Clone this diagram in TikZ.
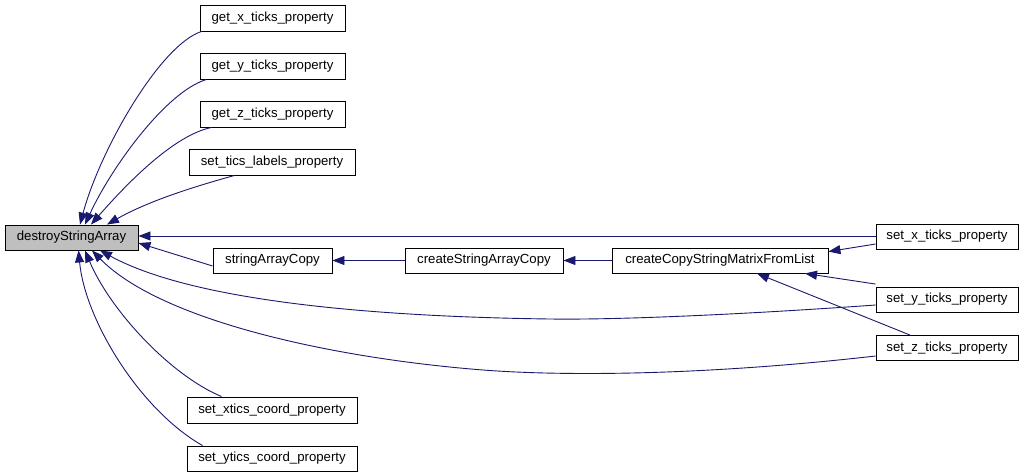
\documentclass[tikz,border=0pt]{standalone}
\usepackage{fontspec}
\setmainfont{Liberation Sans}
\usetikzlibrary{arrows.meta}
\definecolor{edgeblue}{HTML}{191970}
\definecolor{hilite}{HTML}{BFBFBF}
\begin{document}
\begin{tikzpicture}[x=1pt,y=-1pt,
  fn/.style={draw=black, line width=0.9pt, fill=white, inner sep=0pt,
    minimum height=25pt, font=\fontsize{13.2}{15}\selectfont, anchor=center},
  edge/.style={draw=edgeblue, line width=0.9pt,
    -{Triangle[length=12pt,width=9pt]}}]
\useasboundingbox[fill=white] (0,0) rectangle (1026,474);
% nodes
\node[fn, fill=hilite, minimum width=133pt] (dsa) at (71.5,237.5) {destroyStringArray};
\node[fn, minimum width=145pt, minimum height=26pt] (gx) at (272.5,18) {get\_x\_ticks\_property};
\node[fn, minimum width=145pt, minimum height=26pt] (gy) at (272.5,66) {get\_y\_ticks\_property};
\node[fn, minimum width=145pt, minimum height=26pt] (gz) at (272.5,114) {get\_z\_ticks\_property};
\node[fn, minimum width=166pt, minimum height=26pt] (stl) at (272,162) {set\_tics\_labels\_property};
\node[fn, minimum width=119pt] (sac) at (272.5,260.5) {stringArrayCopy};
\node[fn, minimum width=158pt] (csac) at (484,260.5) {createStringArrayCopy};
\node[fn, minimum width=216pt] (ccsm) at (720,260.5) {createCopyStringMatrixFromList};
\node[fn, minimum width=142pt] (sx) at (947,236.5) {set\_x\_ticks\_property};
\node[fn, minimum width=142pt] (sy) at (947,299.5) {set\_y\_ticks\_property};
\node[fn, minimum width=142pt] (sz) at (947,348) {set\_z\_ticks\_property};
\node[fn, minimum width=170pt, minimum height=26pt] (sxc) at (272,410) {set\_xtics\_coord\_property};
\node[fn, minimum width=170pt] (syc) at (272,458.5) {set\_ytics\_coord\_property};
% edges to destroyStringArray (top)
\draw[edge] ([xshift=2pt]gx.south west) .. controls (160,45) and (100,150) .. ([xshift=8.5pt]dsa.north);
\draw[edge] ([xshift=7pt]gy.south west) .. controls (165,92) and (110,170) .. ([xshift=13.5pt]dsa.north);
\draw[edge] ([xshift=12pt]gz.south west) .. controls (175,135) and (130,180) .. ([xshift=19.5pt]dsa.north);
\draw[edge] ([xshift=46pt]stl.south west) .. controls (200,185) and (150,200) .. ([xshift=35.5pt]dsa.north);
% horizontal edges
\draw[edge] ([yshift=0.5pt]sx.west) -- ([yshift=1.5pt]dsa.east);
\draw[edge] ([yshift=-5.5pt]sac.west) -- ([yshift=-5.5pt]dsa.east);
\draw[edge] (csac.west) -- (sac.east);
\draw[edge] (ccsm.west) -- (csac.east);
\draw[edge] ([yshift=-7.5pt]sx.west) -- ([yshift=-4pt]ccsm.north east);
\draw[edge] ([yshift=2.5pt]sy.north west) -- ([xshift=85pt]ccsm.south);
\draw[edge] ([xshift=-37pt]sz.north) -- ([xshift=37pt]ccsm.south);
% curved edges to destroyStringArray (bottom)
\draw[edge] ([yshift=-5.5pt]sy.west) .. controls (750,314) and (620,320) .. (550,319)
  .. controls (400,317) and (200,305) .. ([xshift=28.5pt]dsa.south);
\draw[edge] ([yshift=-8pt]sz.west) .. controls (700,376) and (560,376) .. (483,370)
  .. controls (330,358) and (160,320) .. ([xshift=20.5pt]dsa.south);
\draw[edge] ([xshift=35pt]sxc.north west) .. controls (170,375) and (110,310) .. ([xshift=13.5pt]dsa.south);
\draw[edge] ([xshift=16pt]syc.north west) .. controls (140,410) and (85,320) .. ([xshift=7pt]dsa.south);
\end{tikzpicture}
\end{document}
